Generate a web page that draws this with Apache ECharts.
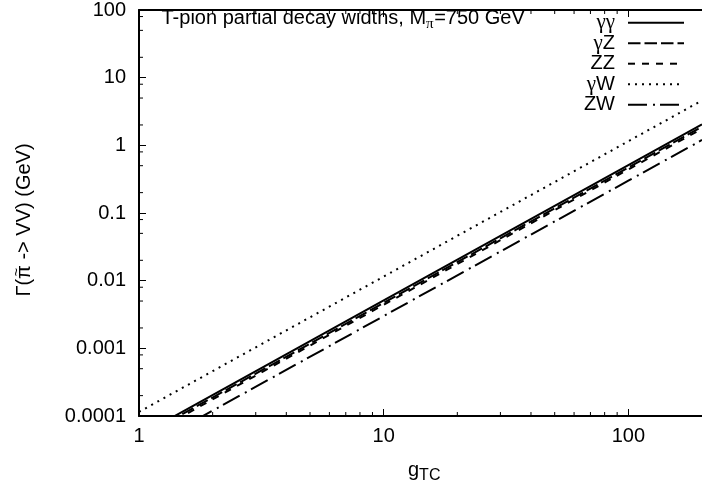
<!DOCTYPE html>
<html><head><meta charset="utf-8">
<script src="https://cdn.jsdelivr.net/npm/echarts@6/dist/echarts.min.js"></script>
<style>html,body{margin:0;padding:0;background:#fff}#c{width:702px;height:486px}</style>
</head><body><div id="c"></div>
<script>
// ---- data ----
const gTC = [1, 10, 100, 200];
const gammaGamma = [5.1e-5, 5.1e-3, 0.51, 2.04];
const gammaZ = [4.7e-5, 4.7e-3, 0.47, 1.88];
const zz = [4.4e-5, 4.4e-3, 0.44, 1.76];
const gammaW = [1.15e-4, 1.15e-2, 1.15, 4.6];
const zw = [3.0e-5, 3.0e-3, 0.30, 1.2];
const seriesNames = ['γγ', 'γZ', 'ZZ', 'γW', 'ZW'];
const xTickLabels = ['1', '10', '100'];
const yTickLabels = ['0.0001', '0.001', '0.01', '0.1', '1', '10', '100'];
const xMinorTicks = [2, 3, 4, 5, 6, 7, 8, 9, 20, 30, 40, 50, 60, 70, 80, 90];
const yMinorTicks = [2e-4, 5e-4, 8e-4, 2e-3, 5e-3, 8e-3, 2e-2, 5e-2, 8e-2, 0.2, 0.5, 0.8, 2, 5, 8, 20, 50, 80];

const X_MIN = 1, X_MAX = 200, Y_MIN = 1e-4, Y_MAX = 100;
const FONT = '"Liberation Sans", Arial, Helvetica, sans-serif';
const SERIF = '"Liberation Serif", "Times New Roman", serif';
const dashes = ['solid', [12.5, 4], [7, 7], [2, 5], [19, 6, 2, 5]];
const allValues = [gammaGamma, gammaZ, zz, gammaW, zw];

const ctx = document.createElement('canvas').getContext('2d');
function tw(s, size, fam) { ctx.font = size + 'px ' + (fam || FONT); return ctx.measureText(s).width; }

function logLabel(labels, offset) {
  return function (v) {
    const l = Math.log10(v), e = Math.round(l);
    if (Math.abs(l - e) > 1e-6) return '';
    const s = labels[e + offset];
    return s === undefined ? '' : s;
  };
}

const chart = echarts.init(document.getElementById('c'), null, { renderer: 'canvas' });

const series = allValues.map((vals, i) => ({
  name: seriesNames[i],
  type: 'line',
  data: gTC.map((g, k) => [g, vals[k]]),
  showSymbol: false,
  symbol: 'none',
  clip: true,
  lineStyle: { color: '#000', width: 2, type: dashes[i], cap: 'butt' },
  z: 3
}));

series.push({
  type: 'custom',
  data: xMinorTicks.map(v => [v, Y_MIN]),
  clip: false,
  silent: true,
  renderItem: function (params, api) {
    const v = api.value(0);
    const b = api.coord([v, Y_MIN]);
    const t = api.coord([v, Y_MAX]);
    return { type: 'group', children: [
      { type: 'line', shape: { x1: b[0], y1: b[1], x2: b[0], y2: b[1] - 4 }, style: { stroke: '#000', lineWidth: 1 } },
      { type: 'line', shape: { x1: t[0], y1: t[1], x2: t[0], y2: t[1] + 4 }, style: { stroke: '#000', lineWidth: 1 } }
    ] };
  }
});
series.push({
  type: 'custom',
  data: yMinorTicks.map(v => [X_MIN, v]),
  clip: false,
  silent: true,
  renderItem: function (params, api) {
    const v = api.value(1);
    const l = api.coord([X_MIN, v]);
    return { type: 'line', shape: { x1: l[0], y1: l[1], x2: l[0] + 4, y2: l[1] }, style: { stroke: '#000', lineWidth: 1 } };
  }
});

// ---- texts ----
const graphics = [];
// title
(function () {
  const x0 = 161.5, ym = 18;
  const p1 = 'T-pion partial decay widths, M';
  const w1 = tw(p1, 20);
  graphics.push({ type: 'text', x: x0, y: ym, style: { text: p1, font: '20px ' + FONT, fill: '#000', align: 'left', verticalAlign: 'middle' } });
  const w2 = tw('π', 15, SERIF);
  graphics.push({ type: 'text', x: x0 + w1, y: ym + 6, style: { text: 'π', font: '15px ' + SERIF, fill: '#000', align: 'left', verticalAlign: 'middle' } });
  graphics.push({ type: 'text', x: x0 + w1 + w2 + 0.5, y: ym, style: { text: '=750 GeV', font: '20px ' + FONT, fill: '#000', align: 'left', verticalAlign: 'middle' } });
})();
// legend
seriesNames.forEach((n, i) => {
  const y = 22.7 + 20.5 * i;
  const rich = n.replace(/γ/g, '{s|γ}');
  graphics.push({ type: 'text', x: 615, y: y, style: {
    text: rich, font: '20px ' + FONT, fill: '#000', align: 'right', verticalAlign: 'middle',
    rich: { s: { fontFamily: SERIF, fontSize: 21, fill: '#000' } } } });
  graphics.push({ type: 'line', shape: { x1: 628, y1: y, x2: 684, y2: y },
    style: { stroke: '#000', lineWidth: 2, lineDash: dashes[i] === 'solid' ? null : dashes[i], lineCap: 'butt' } });
});
// y axis name (rotated); tilde placed above the pi
(function () {
  const yl = 'Γ(π -> VV) (GeV)';
  const W = tw(yl, 20);
  const cx = 24.8, cy = 220;
  graphics.push({ type: 'text', x: cx, y: cy, rotation: Math.PI / 2,
    style: { text: yl, font: '20px ' + FONT, fill: '#000', align: 'center', verticalAlign: 'middle' } });
  const off = tw('Γ(', 20) + tw('π', 20) / 2;
  graphics.push({ type: 'text', x: cx - 7.5, y: cy + W / 2 - off, rotation: Math.PI / 2,
    style: { text: '~', font: '15px ' + FONT, fill: '#000', align: 'center', verticalAlign: 'middle' } });
})();
// x axis name
(function () {
  const x0 = 408;
  graphics.push({ type: 'text', x: x0, y: 470.5, style: { text: 'g', font: '20px ' + FONT, fill: '#000', align: 'left', verticalAlign: 'middle' } });
  graphics.push({ type: 'text', x: x0 + tw('g', 20), y: 476, style: { text: 'TC', font: '16px ' + FONT, fill: '#000', align: 'left', verticalAlign: 'middle' } });
})();

const axisCommon = {
  type: 'log', logBase: 10, min: X_MIN, max: X_MAX,
  splitLine: { show: false },
  axisLine: { show: true, lineStyle: { color: '#000', width: 2 } },
  axisTick: { show: true, inside: true, length: 7, lineStyle: { color: '#000', width: 1 } },
  minorTick: { show: false }
};

chart.setOption({
  animation: false,
  backgroundColor: '#fff',
  grid: { left: 139, top: 6, width: 570, height: 410, containLabel: false },
  xAxis: [
    Object.assign({}, axisCommon, {
      position: 'bottom',
      axisLabel: { show: true, margin: 10, color: '#000', fontSize: 20, fontFamily: FONT, formatter: logLabel(xTickLabels, 0), showMaxLabel: false }
    }),
    Object.assign({}, axisCommon, {
      position: 'top',
      axisLabel: { show: false }
    })
  ],
  yAxis: {
    type: 'log', logBase: 10, min: Y_MIN, max: Y_MAX,
    splitLine: { show: false },
    axisLine: { show: true, lineStyle: { color: '#000', width: 2 } },
    axisTick: { show: true, inside: true, length: 7, lineStyle: { color: '#000', width: 1 } },
    axisLabel: { show: true, margin: 13, color: '#000', fontSize: 20, fontFamily: FONT, formatter: logLabel(yTickLabels, 4) }
  },
  series: series,
  graphic: graphics
});
</script>
</body></html>
